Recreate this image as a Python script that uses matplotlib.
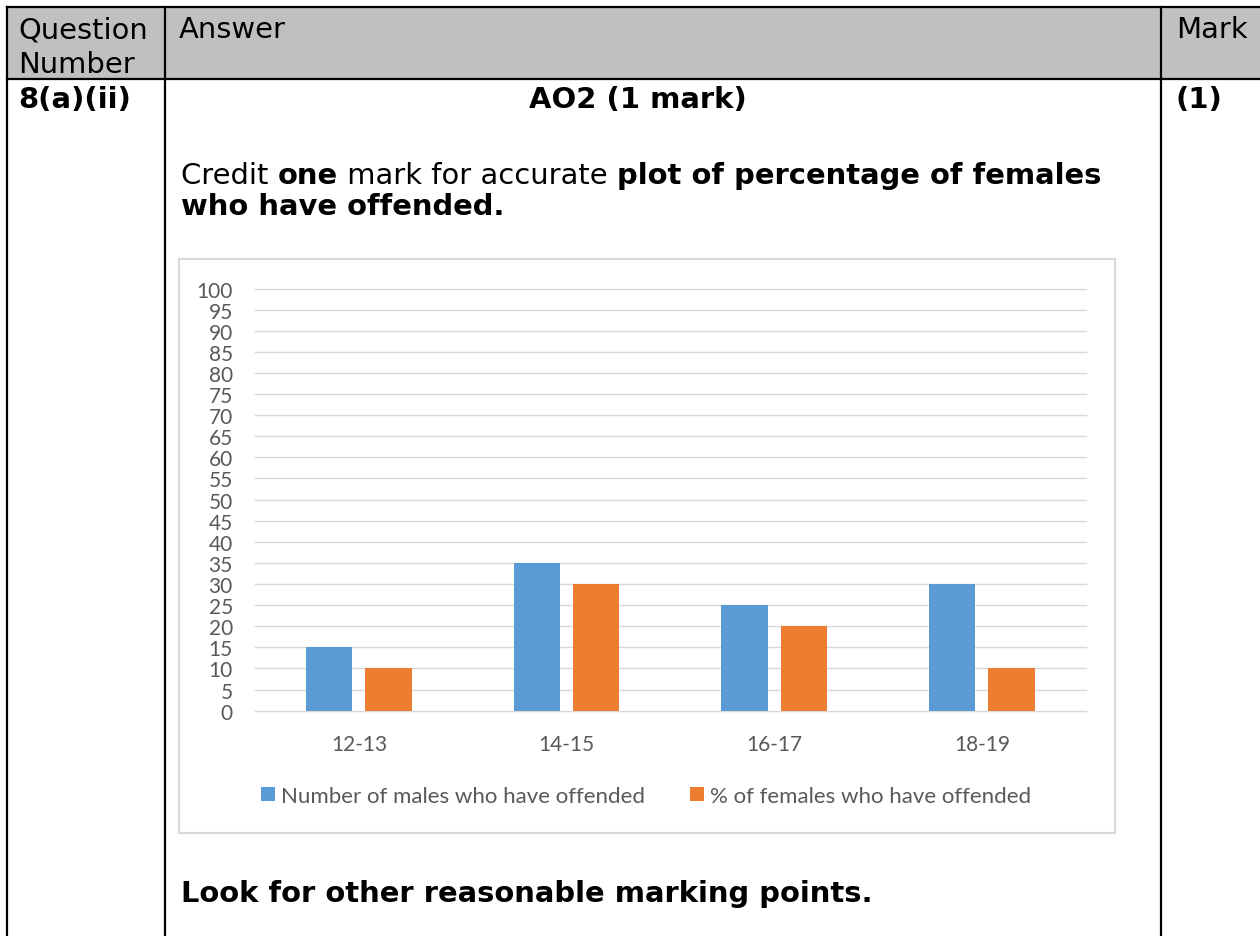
import matplotlib
matplotlib.use("Agg")
import matplotlib.pyplot as plt
from matplotlib.patches import Rectangle, Patch
import numpy as np

# ---- data ----
categories = ["12-13", "14-15", "16-17", "18-19"]
males_offended = [15, 35, 25, 30]
females_pct_offended = [10, 30, 20, 10]
series_names = ["Number of males who have offended", "% of females who have offended"]
y_ticks = list(range(0, 101, 5))

header_texts = ["Question\nNumber", "Answer", "Mark"]
question_number = "8(a)(ii)"
ao_text = "AO2 (1 mark)"
mark_text = "(1)"
footer_text = "Look for other reasonable marking points."

W, H = 1260, 937
fig = plt.figure(figsize=(W / 100, H / 100), dpi=100)

# background axes in pixel coordinates
bg = fig.add_axes([0, 0, 1, 1])
bg.set_xlim(0, W)
bg.set_ylim(H, 0)
bg.axis("off")

lw = 1.6
# header fill
bg.add_patch(Rectangle((7, 8), W - 7, 72, facecolor="#C0C0C0", edgecolor="none", zorder=0))
# table lines
bg.plot([7, W], [8, 8], color="black", lw=lw)
bg.plot([7, W], [80, 80], color="black", lw=lw)
for xv in (7, 165, 1161):
    bg.plot([xv, xv], [8, H], color="black", lw=lw)

FS = 20.9
bg.text(18, 38, "Question", fontsize=FS, va="baseline", ha="left")
bg.text(18, 73, "Number", fontsize=FS, va="baseline", ha="left")
bg.text(179, 38, header_texts[1], fontsize=FS, va="baseline", ha="left")
bg.text(1176, 38, header_texts[2], fontsize=FS, va="baseline", ha="left")

bg.text(18, 108, question_number, fontsize=FS, fontweight="bold", va="baseline", ha="left")
bg.text(638, 108, ao_text, fontsize=FS, fontweight="bold", va="baseline", ha="center")
bg.text(1176, 108, mark_text, fontsize=FS, fontweight="bold", va="baseline", ha="left")

# mixed-weight line 1
x0 = 181
y1 = 184
parts = [("Credit ", "normal"), ("one", "bold"), (" mark for accurate ", "normal"),
         ("plot of percentage of females", "bold")]
renderer = fig.canvas.get_renderer()
xc = x0
for txt, wt in parts:
    t = bg.text(xc, y1, txt, fontsize=FS, fontweight=wt, va="baseline", ha="left")
    bb = t.get_window_extent(renderer=renderer)
    xc += bb.width
bg.text(x0, 215, "who have offended.", fontsize=FS, fontweight="bold", va="baseline", ha="left")
bg.text(x0, 902, footer_text, fontsize=FS, fontweight="bold", va="baseline", ha="left")

# chart frame
bg.add_patch(Rectangle((179, 260), 1115 - 179, 834 - 260, facecolor="white",
                       edgecolor="#D9D9D9", lw=1.5, zorder=1))

# ---- chart axes ----
left, right = 255, 1085.7
top, bottom = 289.5, 711.7
ax = fig.add_axes([left / W, (H - bottom) / H, (right - left) / W, (bottom - top) / H])
ax.set_facecolor("none")
x = np.arange(len(categories))
bw = 0.223
off = 0.1425
ax.bar(x - off, males_offended, width=bw, color="#5B9BD5", zorder=3, label=series_names[0])
ax.bar(x + off, females_pct_offended, width=bw, color="#ED7D31", zorder=3, label=series_names[1])
ax.set_xlim(-0.5, len(categories) - 0.5)
ax.set_ylim(0, 100)
ax.set_yticks(y_ticks)
ax.set_xticks(x)
ax.set_xticklabels(categories)
for s in ax.spines.values():
    s.set_visible(False)
ax.grid(axis="y", color="#D9D9D9", lw=1.0, zorder=0, clip_on=False)
ax.tick_params(axis="both", length=0, labelcolor="#595959", labelsize=15)
ax.tick_params(axis="y", pad=16)
ax.tick_params(axis="x", pad=17)
for lab in ax.get_xticklabels() + ax.get_yticklabels():
    lab.set_family("Lato")

handles = [Patch(facecolor="#5B9BD5"), Patch(facecolor="#ED7D31")]
leg = ax.legend(handles, series_names, loc="center", ncol=2, frameon=False,
                bbox_to_anchor=(646 / W, (H - 797) / H), bbox_transform=fig.transFigure,
                prop={"family": "Lato", "size": 16}, handlelength=0.63, handleheight=0.63,
                handletextpad=0.3, columnspacing=2.0, borderaxespad=0, borderpad=0)
for t in leg.get_texts():
    t.set_color("#595959")

fig.savefig("out.png", dpi=100)
